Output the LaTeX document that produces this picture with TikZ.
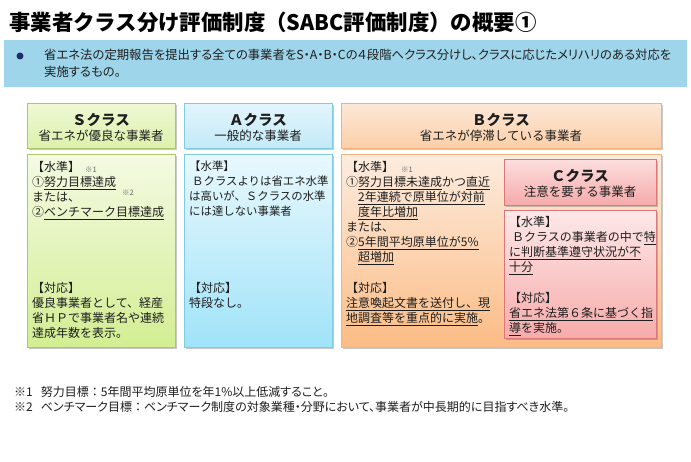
\documentclass[tikz,border=0pt]{standalone}
\usepackage{fontspec}
\setmainfont{Noto Sans CJK JP}
\newfontfamily\jpp[RawFeature=+palt]{Noto Sans CJK JP}
\newfontfamily\jpf{Noto Sans CJK JP}
\usetikzlibrary{shadows}
\definecolor{txt}{HTML}{1E1E1E}
\definecolor{banner}{HTML}{9ED5EA}
\definecolor{navy}{HTML}{1F2D6B}
\definecolor{sB}{HTML}{A8C86A}\definecolor{sT}{HTML}{EEF8D4}\definecolor{sM}{HTML}{DDF1AC}
\definecolor{sbT}{HTML}{F4FAE3}\definecolor{sbB}{HTML}{D3EE93}
\definecolor{aB}{HTML}{7FCBE3}\definecolor{aT}{HTML}{E2F5FC}\definecolor{aM}{HTML}{C3EAF8}
\definecolor{abT}{HTML}{E8F8FD}\definecolor{abB}{HTML}{A0E3F9}
\definecolor{bB}{HTML}{F6B07A}\definecolor{bT}{HTML}{FDE8D8}\definecolor{bM}{HTML}{FBCFA8}
\definecolor{bbT}{HTML}{FDECDF}\definecolor{bbB}{HTML}{FBBC85}
\definecolor{cB}{HTML}{D9777A}\definecolor{cT}{HTML}{FDDEDE}\definecolor{cM}{HTML}{F5AAAA}
\definecolor{cbT}{HTML}{FDE8E8}\definecolor{cbB}{HTML}{F7ABAB}
\newcommand\bodyfnt{\fontsize{12}{15}\selectfont}
\newcommand\hdrfnt{\fontsize{12.5}{16}\selectfont}
\newcommand\ttlfnt{\fontsize{14.5}{16}\selectfont\bfseries}
\newcommand\ul[1]{\underline{#1}}
\tikzset{
  panel/.style={anchor=north west, inner sep=0pt, line width=0.8pt,
    drop shadow={shadow xshift=1.2pt, shadow yshift=-1.2pt, opacity=0.35, fill=black!60}},
  hdrS/.style={panel, draw=sB, top color=sT, bottom color=sM},
  bodS/.style={panel, draw=sB, top color=sbT, bottom color=sbB},
  hdrA/.style={panel, draw=aB, top color=aT, bottom color=aM},
  bodA/.style={panel, draw=aB, top color=abT, bottom color=abB},
  hdrB/.style={panel, draw=bB, top color=bT, bottom color=bM},
  bodB/.style={panel, draw=bB, top color=bbT, bottom color=bbB},
  hdrC/.style={panel, draw=cB, top color=cT, bottom color=cM},
  bodC/.style={panel, draw=cB, top color=cbT, bottom color=cbB},
  btxt/.style={anchor=north west, inner sep=0pt, align=left, font=\bodyfnt, text=txt},
  htxt/.style={anchor=center, inner sep=0pt, align=center, text=txt},
  note/.style={anchor=center, inner sep=0pt, font=\fontsize{7.5}{8}\selectfont, text=black!60},
}
\begin{document}
\begin{tikzpicture}[x=1pt,y=-1pt]
\useasboundingbox[fill=white] (0,0) rectangle (691,462);
% title
\node[anchor=west, inner sep=0pt, font=\fontsize{21.4}{24}\selectfont\bfseries] (title) at (9,22)
  {事業者クラス分け評価制度（SABC評価制度）の概要①};
% banner
\node[anchor=north west, inner sep=0pt, fill=banner, minimum width=683pt, minimum height=47pt] (banner) at (4,40) {};
\node[circle, fill=navy, inner sep=0pt, minimum size=7pt] (bullet) at (20,56) {};
\node[anchor=north west, inner sep=0pt, align=left, font=\jpp\fontsize{12.35}{17}\selectfont, text=txt] (bantext) at (44,49)
  {省エネ法の定期報告を提出する全ての事業者をS・A・B・Cの４段階へクラス分けし、クラスに応じたメリハリのある対応を\\実施するもの。};
% S
\node[hdrS, minimum width=148pt, minimum height=45pt] (sh) at (27,103) {};
\node[bodS, minimum width=148pt, minimum height=193pt] (sb) at (27,154) {};
\node[htxt] (sh1) at (101,120) {\ttlfnt Ｓクラス};
\node[htxt] (sh2) at (101,136) {\hdrfnt 省エネが優良な事業者};
\node[btxt] (sb1) at (32,161) {【水準】\\①\ul{努力目標達成}\\または、\\②\ul{ベンチマーク目標達成}};
\node[note] (sn1) at (91,170) {※1};
\node[note] (sn2) at (128,193) {※2};
\node[btxt] (sb2) at (32,282) {【対応】\\優良事業者として、経産\\省ＨＰで事業者名や連続\\達成年数を表示。};
% A
\node[hdrA, minimum width=148pt, minimum height=45pt] (ah) at (184,103) {};
\node[bodA, minimum width=148pt, minimum height=193pt] (ab) at (184,154) {};
\node[htxt] (ah1) at (258,120) {\ttlfnt Ａクラス};
\node[htxt] (ah2) at (258,136) {\hdrfnt 一般的な事業者};
\node[btxt, font=\fontsize{11.4}{15}\selectfont] (ab1) at (189,161) {【水準】\\\hspace*{3pt}Ｂクラスよりは省エネ水準\\は高いが、Ｓクラスの水準\\には達しない事業者};
\node[btxt] (ab2) at (189,282) {【対応】\\特段なし。};
% B
\node[hdrB, minimum width=320pt, minimum height=45pt] (bh) at (341,103) {};
\node[bodB, minimum width=320pt, minimum height=193pt] (bb) at (341,154) {};
\node[htxt] (bh1) at (501,120) {\ttlfnt Ｂクラス};
\node[htxt] (bh2) at (501,136) {\hdrfnt 省エネが停滞している事業者};
\node[btxt] (bb1) at (346,161) {【水準】\\①\ul{努力目標未達成}かつ\ul{直近}\\\hspace*{12pt}\ul{2年連続で原単位が対前}\\\hspace*{12pt}\ul{度年比増加}\\または、\\②\ul{5年間平均原単位が5\%}\\\hspace*{12pt}\ul{超増加}};
\node[note] (bn1) at (407,170) {※1};
\node[btxt] (bb2) at (346,282) {【対応】\\\ul{注意喚起文書を送付し、現}\\\ul{地調査等を重点的に実施}。};
% C
\node[hdrC, minimum width=152pt, minimum height=46pt] (ch) at (504,159) {};
\node[bodC, minimum width=152pt, minimum height=128pt] (cb) at (504,210) {};
\node[htxt] (ch1) at (580,176) {\ttlfnt Ｃクラス};
\node[htxt] (ch2) at (580,192) {\hdrfnt 注意を要する事業者};
\node[btxt] (cb1) at (509,216) {【水準】\\\hspace*{3pt}Ｂクラスの事業者の中で\ul{特}\\\ul{に判断基準遵守状況が不}\\\ul{十分}};
\node[btxt] (cb2) at (509,292) {【対応】\\\ul{省エネ法第６条に基づく指}\\\ul{導}を実施。};
% footnotes
\node[anchor=north west, inner sep=0pt, align=left, font=\jpp\fontsize{12}{15}\selectfont, text=txt] (fn) at (14,386)
  {※1\hspace{8pt}努力目標{\jpf ：}5年間平均原単位を年1\%以上低減すること。\\※2\hspace{8pt}ベンチマーク目標{\jpf ：}ベンチマーク制度の対象業種・分野において、事業者が中長期的に目指すべき水準。};
\end{tikzpicture}
\end{document}
